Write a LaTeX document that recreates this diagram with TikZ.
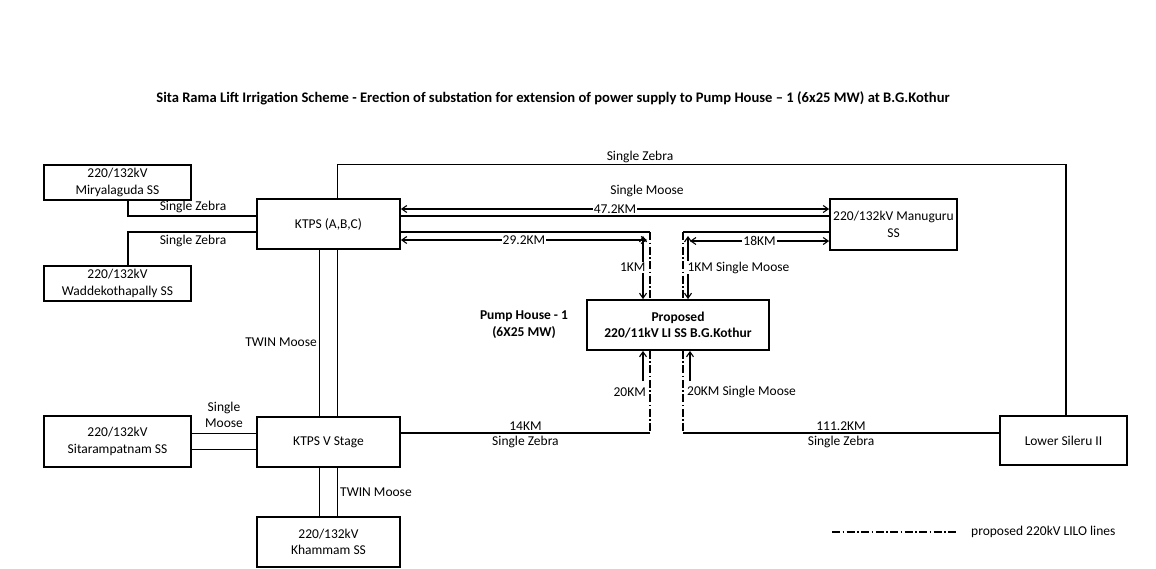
\documentclass[tikz,border=0pt]{standalone}
\usepackage{fontspec}
\setmainfont{Carlito}
\usetikzlibrary{arrows.meta}

\begin{document}
\begin{tikzpicture}[
        x=1pt, y=-1pt,
        >={Straight Barb[length=5pt,width=7pt]},
        box/.style={
            draw=black,
            line width=1.8pt,
            fill=white,
            inner sep=0pt,
            align=center,
            font=\fontsize{13.5}{16.5}\selectfont
        },
        lbl/.style={inner sep=1pt, font=\fontsize{13.5}{15}\selectfont},
        wire/.style={line width=1.1pt},
        lilo/.style={line width=1.1pt, dash pattern=on 8pt off 2.5pt on 1.5pt off 2.5pt},
        dim/.style={line width=1.1pt, <->}
    ]
    \useasboundingbox (0,0) rectangle (1156,568);

    % Title
    \node[font=\bfseries\fontsize{14.6}{16}\selectfont] (title) at (553,98)
        {Sita Rama Lift Irrigation Scheme - Erection of substation for extension of power supply to Pump House – 1 (6x25 MW) at B.G.Kothur};

    % Substations
    \node[box, minimum width=147pt, minimum height=35pt] (mir)   at (117.5,182.5) {220/132kV\\Miryalaguda SS};
    \node[box, minimum width=147pt, minimum height=35pt] (wad)   at (117.5,283.5) {220/132kV\\Waddekothapally SS};
    \node[box, minimum width=143pt, minimum height=50pt] (ktps)  at (328.5,224)   {KTPS (A,B,C)};
    \node[box, minimum width=143pt, minimum height=50pt] (ktpsv) at (328.5,442)   {KTPS V Stage};
    \node[box, minimum width=147pt, minimum height=51pt] (sita)  at (117.5,441.5) {220/132kV\\Sitarampatnam SS};
    \node[box, minimum width=143pt, minimum height=50pt] (kham)  at (328.5,542)   {220/132kV\\Khammam SS};
    \node[box, minimum width=127pt, minimum height=51pt] (manu)  at (893.5,224.5) {220/132kV Manuguru\\SS};
    \node[box, minimum width=182pt, minimum height=50pt, font=\bfseries\fontsize{13.5}{16.5}\selectfont]
        (prop) at (678,325) {Proposed\\220/11kV LI SS B.G.Kothur};
    \node[box, minimum width=127pt, minimum height=49pt] (lsil)  at (1063.5,440.5) {Lower Sileru II};

    \node[lbl, align=center, font=\bfseries\fontsize{13.5}{17}\selectfont] (pump) at (524,325) {Pump House - 1\\(6X25 MW)};

    % LILO corners
    \coordinate (tl) at (650,232);
    \coordinate (tr) at (683,232);
    \coordinate (bl) at (650,433);
    \coordinate (br) at (683,433);

    % Lines on the left
    \draw[wire] ([xshift=10.5pt]mir.south) |- ([yshift=8pt]ktps.west);
    \draw[wire] ([xshift=10.5pt]wad.north) |- ([yshift=-8pt]ktps.west);
    \node[lbl] at (193,207) {Single Zebra};
    \node[lbl] at (193,241) {Single Zebra};

    \draw[wire] ([xshift=-9pt]ktps.south) -- ([xshift=-9pt]ktpsv.north);
    \draw[wire] ([xshift=9pt]ktps.south)  -- ([xshift=9pt]ktpsv.north);
    \node[lbl, anchor=east] at (318,342) {TWIN Moose};

    \draw[wire] ([xshift=-9pt]ktpsv.south) -- ([xshift=-9pt]kham.north);
    \draw[wire] ([xshift=9pt]ktpsv.south)  -- ([xshift=9pt]kham.north);
    \node[lbl, anchor=west] at (339,492) {TWIN Moose};

    \draw[wire] ([yshift=8pt]sita.east)  -- ([yshift=8pt]sita.east -| ktpsv.west);
    \draw[wire] ([yshift=-8pt]sita.east) -- ([yshift=-8pt]sita.east -| ktpsv.west);
    \node[lbl, align=center, font=\fontsize{13.5}{16}\selectfont] at (224,415) {Single\\Moose};

    % Top line to Lower Sileru
    \draw[wire] ([xshift=9pt]ktps.north) -- ++(0,-34) -| ([xshift=2.5pt]lsil.north);
    \node[lbl] at (640,157) {Single Zebra};

    % KTPS - Manuguru
    \draw[wire] ([yshift=8pt]ktps.east) -- ([yshift=8pt]ktps.east -| manu.west);
    \draw[dim] ([yshift=15pt]ktps.east) -- ([yshift=15pt]ktps.east -| manu.west)
        node[lbl, midway, fill=white] {47.2KM};
    \node[lbl] at (647,191) {Single Moose};

    \draw[wire] ([yshift=-8pt]ktps.east) -- (tl);
    \draw[wire] (manu.west |- tr) -- (tr);
    \coordinate (a1) at (647,240);
    \coordinate (a2) at (690,241);
    \draw[dim] ([yshift=-16pt]ktps.east) -- (a1) node[lbl, midway, fill=white] {29.2KM};
    \draw[dim] (a2) -- (a2 -| manu.west) node[lbl, midway, fill=white] {18KM};

    % LILO to proposed SS
    \draw[lilo] (tl) -- (tl |- prop.north);
    \draw[lilo] (tr) -- (tr |- prop.north);
    \draw[lilo] (prop.south -| bl) -- (bl);
    \draw[lilo] (prop.south -| br) -- (br);

    \coordinate (v1) at (643,236);
    \coordinate (v2) at (688,236);
    \draw[dim] (v1) -- (v1 |- prop.north)
        node[lbl, midway, fill=white, anchor=east, xshift=4pt] {1KM};
    \draw[dim] (v2) -- (v2 |- prop.north)
        node[lbl, midway, fill=white, anchor=west, xshift=-2pt] {1KM Single Moose};

    \coordinate (u1) at (643,381);
    \coordinate (u2) at (690,381);
    \draw[wire, ->] (u1) -- (u1 |- prop.south);
    \draw[wire, ->] (u2) -- (u2 |- prop.south);
    \node[lbl, anchor=east] at (647,392) {20KM};
    \node[lbl, anchor=west] at (686,392) {20KM Single Moose};

    % Lines to KTPS V Stage and Lower Sileru
    \draw[wire] (bl) -- (bl -| ktpsv.east)
        node[lbl, midway, above=0.5pt] {14KM}
        node[lbl, midway, below=2pt] {Single Zebra};
    \draw[wire] (br) -- (br -| lsil.west)
        node[lbl, midway, above=0.5pt] {111.2KM}
        node[lbl, midway, below=2pt] {Single Zebra};

    % Legend
    \coordinate (lg1) at (832,532);
    \coordinate (lg2) at (956,532);
    \draw[lilo] (lg1) -- (lg2);
    \node[lbl, anchor=west] at (970,532) {proposed 220kV LILO lines};

    \end{tikzpicture}
\end{document}
